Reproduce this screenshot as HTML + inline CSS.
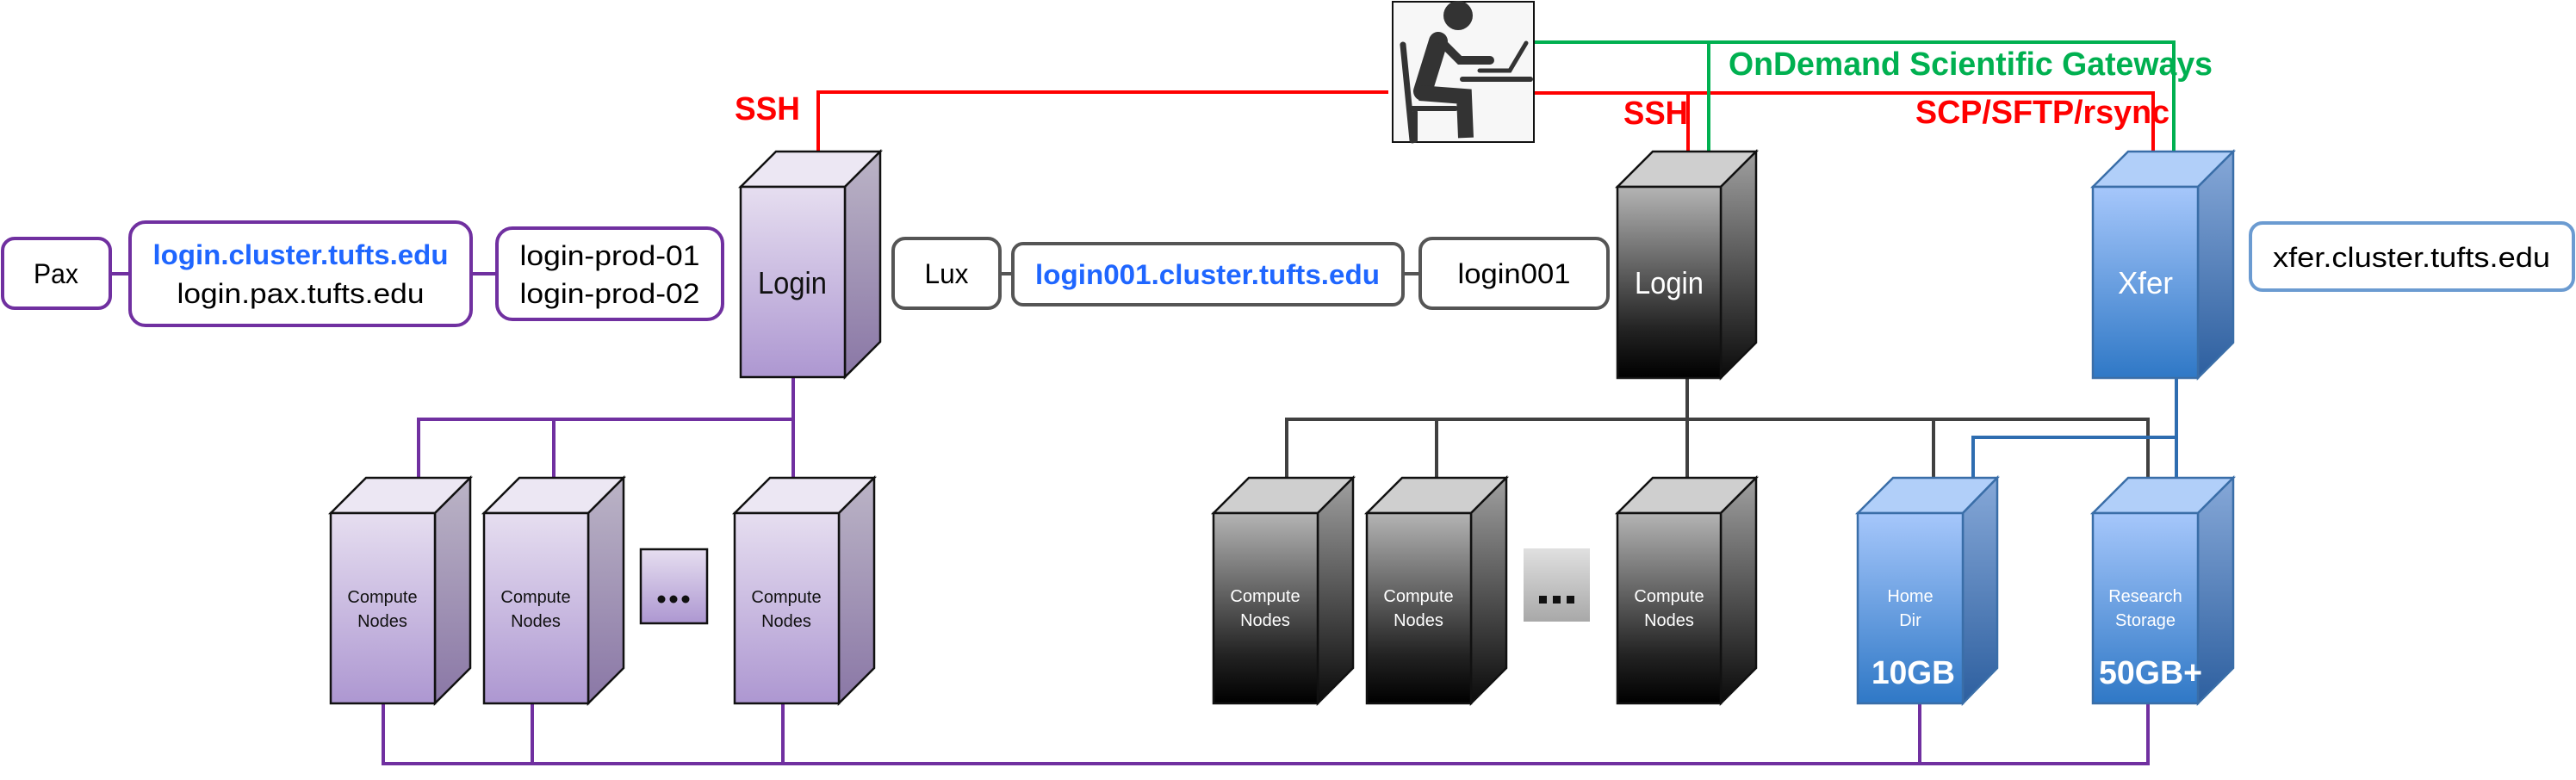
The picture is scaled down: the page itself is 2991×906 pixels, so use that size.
<!DOCTYPE html>
<html><head><meta charset="utf-8"><style>
html,body{margin:0;padding:0;background:#fff;width:2991px;height:906px;overflow:hidden}
svg{display:block}
text{font-family:"Liberation Sans",Arial,sans-serif}
</style></head><body>
<svg width="2991" height="906" viewBox="0 0 2991 906" xmlns="http://www.w3.org/2000/svg">
<defs>
<linearGradient id="pf" x1="0" y1="0" x2="0" y2="1"><stop offset="0" stop-color="#e6def0"/><stop offset="1" stop-color="#ad97d1"/></linearGradient>
<linearGradient id="ps" x1="0" y1="0" x2="0" y2="1"><stop offset="0" stop-color="#bbb4c6"/><stop offset="1" stop-color="#8a77a6"/></linearGradient>
<linearGradient id="kf" x1="0" y1="0" x2="0" y2="1"><stop offset="0" stop-color="#b4b4b4"/><stop offset="0.75" stop-color="#222"/><stop offset="1" stop-color="#000"/></linearGradient>
<linearGradient id="ks" x1="0" y1="0" x2="0" y2="1"><stop offset="0" stop-color="#a0a0a0"/><stop offset="1" stop-color="#0a0a0a"/></linearGradient>
<linearGradient id="bf" x1="0" y1="0" x2="0" y2="1"><stop offset="0" stop-color="#a6c7fb"/><stop offset="1" stop-color="#2f78c6"/></linearGradient>
<linearGradient id="bs" x1="0" y1="0" x2="0" y2="1"><stop offset="0" stop-color="#86a8d8"/><stop offset="1" stop-color="#2d5f9f"/></linearGradient>
<linearGradient id="kd" x1="0" y1="0" x2="0" y2="1"><stop offset="0" stop-color="#e0e0e0"/><stop offset="1" stop-color="#a8a8a8"/></linearGradient>
</defs>

<!-- connector lines -->
<g fill="none" stroke-width="4">
<path d="M950 195 V107 H1612 M1781 108 H2500 V176" stroke="#ff0000"/>
<path d="M1960 108 V176" stroke="#ff0000"/>
<path d="M1781 49 H2524 V176 M1984 49 V176" stroke="#00b050"/>
<path d="M921 438 V487 M486 555 V487 H921 V555 M643 487 V555" stroke="#7030a0"/>
<path d="M445 817 V887 H2494 V817 M618 817 V887 M909 817 V887 M2229 817 V887" stroke="#7030a0"/>
<path d="M128 318 H151 M547 318 H577" stroke="#7030a0"/>
<path d="M1959 439 V555 M1494 555 V487 H2494 V555 M1668 487 V555 M2245 487 V555" stroke="#404040"/>
<path d="M1161 318 H1176 M1629 318 H1649" stroke="#555"/>
<path d="M2527 439 V555 M2291 555 V508 H2527" stroke="#2e6db0"/>
</g>

<!-- servers -->
<g stroke="#111" stroke-width="2.5" stroke-linejoin="miter">
<!-- purple login -->
<polygon points="860,217 901,176 1022,176 981,217" fill="#ece7f3"/><polygon points="981,217 1022,176 1022,397 981,438" fill="url(#ps)"/><rect x="860" y="217" width="121" height="221" fill="url(#pf)"/>
<!-- purple computes -->
<polygon points="384,596 425,555 546,555 505,596" fill="#ece7f3"/><polygon points="505,596 546,555 546,776 505,817" fill="url(#ps)"/><rect x="384" y="596" width="121" height="221" fill="url(#pf)"/>
<polygon points="562,596 603,555 724,555 683,596" fill="#ece7f3"/><polygon points="683,596 724,555 724,776 683,817" fill="url(#ps)"/><rect x="562" y="596" width="121" height="221" fill="url(#pf)"/>
<polygon points="853,596 894,555 1015,555 974,596" fill="#ece7f3"/><polygon points="974,596 1015,555 1015,776 974,817" fill="url(#ps)"/><rect x="853" y="596" width="121" height="221" fill="url(#pf)"/>
<rect x="744" y="638" width="77" height="86" fill="url(#pf)"/>
</g>
<g stroke="#111" stroke-width="2.5">
<!-- black login -->
<polygon points="1878,217 1919,176 2039,176 1998,217" fill="#cfcfcf"/><polygon points="1998,217 2039,176 2039,398 1998,439" fill="url(#ks)"/><rect x="1878" y="217" width="120" height="222" fill="url(#kf)"/>
<polygon points="1409,596 1450,555 1571,555 1530,596" fill="#cfcfcf"/><polygon points="1530,596 1571,555 1571,776 1530,817" fill="url(#ks)"/><rect x="1409" y="596" width="121" height="221" fill="url(#kf)"/>
<polygon points="1587,596 1628,555 1749,555 1708,596" fill="#cfcfcf"/><polygon points="1708,596 1749,555 1749,776 1708,817" fill="url(#ks)"/><rect x="1587" y="596" width="121" height="221" fill="url(#kf)"/>
<polygon points="1878,596 1919,555 2039,555 1998,596" fill="#cfcfcf"/><polygon points="1998,596 2039,555 2039,776 1998,817" fill="url(#ks)"/><rect x="1878" y="596" width="120" height="221" fill="url(#kf)"/>
</g>
<rect x="1769" y="637" width="77" height="85" fill="url(#kd)"/>
<g stroke="#3a6ea8" stroke-width="2.5">
<polygon points="2430,217 2471,176 2593,176 2552,217" fill="#b1cff9"/><polygon points="2552,217 2593,176 2593,398 2552,439" fill="url(#bs)"/><rect x="2430" y="217" width="122" height="222" fill="url(#bf)"/>
<polygon points="2157,596 2198,555 2319,555 2279,596" fill="#b1cff9"/><polygon points="2279,596 2319,555 2319,776 2279,817" fill="url(#bs)"/><rect x="2157" y="596" width="122" height="221" fill="url(#bf)"/>
<polygon points="2430,596 2471,555 2593,555 2552,596" fill="#b1cff9"/><polygon points="2552,596 2593,555 2593,776 2552,817" fill="url(#bs)"/><rect x="2430" y="596" width="122" height="221" fill="url(#bf)"/>
</g>

<!-- dots -->
<g fill="#111"><circle cx="768" cy="696" r="4.5"/><circle cx="782" cy="696" r="4.5"/><circle cx="796" cy="696" r="4.5"/></g>
<g fill="#111"><rect x="1787" y="692" width="9" height="9"/><rect x="1803" y="692" width="9" height="9"/><rect x="1819" y="692" width="9" height="9"/></g>

<!-- server labels -->
<g font-size="36" text-anchor="middle">
<text x="920" y="341" fill="#111" textLength="80" lengthAdjust="spacingAndGlyphs">Login</text>
<text x="1938" y="341" fill="#fff" textLength="80" lengthAdjust="spacingAndGlyphs">Login</text>
<text x="2491" y="341" fill="#fff" textLength="64" lengthAdjust="spacingAndGlyphs">Xfer</text>
</g>
<g font-size="20" text-anchor="middle" fill="#111">
<text x="444" y="700">Compute</text><text x="444" y="728">Nodes</text>
<text x="622" y="700">Compute</text><text x="622" y="728">Nodes</text>
<text x="913" y="700">Compute</text><text x="913" y="728">Nodes</text>
</g>
<g font-size="20" text-anchor="middle" fill="#fff">
<text x="1469" y="699">Compute</text><text x="1469" y="727">Nodes</text>
<text x="1647" y="699">Compute</text><text x="1647" y="727">Nodes</text>
<text x="1938" y="699">Compute</text><text x="1938" y="727">Nodes</text>
<text x="2218" y="699">Home</text><text x="2218" y="727">Dir</text>
<text x="2491" y="699">Research</text><text x="2491" y="727">Storage</text>
</g>
<g font-size="38" font-weight="bold" fill="#fff">
<text x="2173" y="794" textLength="97" lengthAdjust="spacingAndGlyphs">10GB</text>
<text x="2437" y="794" textLength="120" lengthAdjust="spacingAndGlyphs">50GB+</text>
</g>

<!-- protocol labels -->
<g font-weight="bold" font-size="38">
<text x="853" y="139" fill="#ff0000" textLength="76" lengthAdjust="spacingAndGlyphs">SSH</text>
<text x="1885" y="144" fill="#ff0000" textLength="75" lengthAdjust="spacingAndGlyphs">SSH</text>
<text x="2224" y="143" fill="#ff0000" textLength="295" lengthAdjust="spacingAndGlyphs">SCP/SFTP/rsync</text>
<text x="2007" y="87" fill="#00b050" textLength="562" lengthAdjust="spacingAndGlyphs">OnDemand Scientific Gateways</text>
</g>

<!-- hostname boxes -->
<g fill="#fff" stroke-width="4">
<rect x="3" y="277" width="125" height="81" rx="14" stroke="#7030a0"/>
<rect x="151" y="258" width="396" height="120" rx="18" stroke="#7030a0"/>
<rect x="577" y="265" width="262" height="106" rx="18" stroke="#7030a0"/>
<rect x="1037" y="277" width="124" height="81" rx="14" stroke="#555"/>
<rect x="1176" y="283" width="453" height="71" rx="12" stroke="#555"/>
<rect x="1649" y="277" width="218" height="81" rx="14" stroke="#555"/>
<rect x="2613" y="259" width="375" height="78" rx="14" stroke="#6b9bd1"/>
</g>
<g font-size="32" fill="#000" text-anchor="middle">
<text x="65" y="329" textLength="52" lengthAdjust="spacingAndGlyphs">Pax</text>
<text x="349" y="307" fill="#1f66ff" font-weight="bold" textLength="343" lengthAdjust="spacingAndGlyphs">login.cluster.tufts.edu</text>
<text x="349" y="352" textLength="287" lengthAdjust="spacingAndGlyphs">login.pax.tufts.edu</text>
<text x="708" y="308" textLength="209" lengthAdjust="spacingAndGlyphs">login-prod-01</text>
<text x="708" y="352" textLength="209" lengthAdjust="spacingAndGlyphs">login-prod-02</text>
<text x="1099" y="329" textLength="51" lengthAdjust="spacingAndGlyphs">Lux</text>
<text x="1402" y="330" fill="#1f66ff" font-weight="bold" textLength="400" lengthAdjust="spacingAndGlyphs">login001.cluster.tufts.edu</text>
<text x="1758" y="329" textLength="131" lengthAdjust="spacingAndGlyphs">login001</text>
<text x="2800" y="310" textLength="322" lengthAdjust="spacingAndGlyphs">xfer.cluster.tufts.edu</text>
</g>

<!-- person icon -->
<rect x="1617" y="2" width="164" height="163" fill="#f7f7f7" stroke="#111" stroke-width="2"/>
<g fill="#333" stroke="#333" stroke-linecap="round">
<circle cx="1693" cy="18" r="17" stroke="none"/>
<path d="M1670 48 L1652 106" stroke-width="22" fill="none"/>
<path d="M1675 50 L1695 70 L1730 70" stroke-width="10" fill="none"/>
<path d="M1648 108 L1700 112 L1702 160" stroke-width="18" fill="none" stroke-linecap="butt"/>
<path d="M1629 52 L1640 163" stroke-width="7" fill="none"/>
<path d="M1640 126 L1690 126 M1643 130 L1643 163" stroke-width="6" fill="none"/>
<path d="M1698 92 L1777 92" stroke-width="6" fill="none"/>
<path d="M1718 82 L1753 82 L1772 50" stroke-width="5" fill="none"/>
</g>
</svg>
</body></html>
